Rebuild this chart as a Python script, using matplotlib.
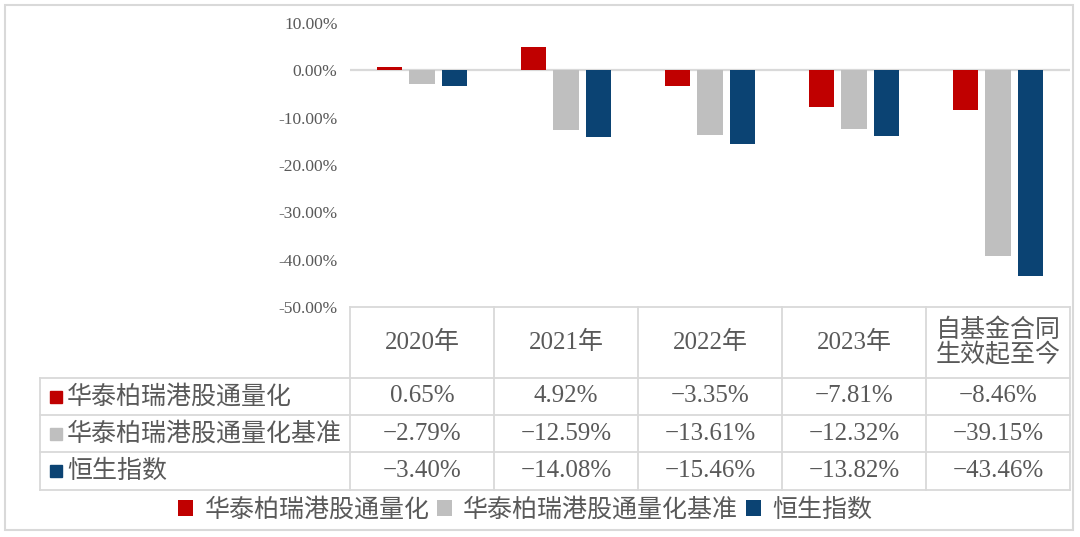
import numpy as np
import matplotlib.pyplot as plt
from matplotlib.patches import Rectangle

plt.rcParams['font.family'] = ['Liberation Serif', 'Noto Sans CJK SC', 'DejaVu Sans']

categories = ['2020年', '2021年', '2022年', '2023年', '自基金合同\n生效起至今']
series = ['华泰柏瑞港股通量化', '华泰柏瑞港股通量化基准', '恒生指数']
fund = [0.65, 4.92, -3.35, -7.81, -8.46]
bench = [-2.79, -12.59, -13.61, -12.32, -39.15]
hsi = [-3.40, -14.08, -15.46, -13.82, -43.46]
values = [fund, bench, hsi]
colors = ['#C00000', '#BFBFBF', '#0B4373']
yticks = [10, 0, -10, -20, -30, -40, -50]

W, H = 1080, 537
txt = '#595959'
grid = '#D9D9D9'

fig = plt.figure(figsize=(W / 100, H / 100), dpi=100, facecolor='white')

# chart area (pixel layout)
px_left, px_right, px_top, px_bot = 350, 1070, 23, 307
ax = fig.add_axes([px_left / W, 1 - px_bot / H, (px_right - px_left) / W, (px_bot - px_top) / H])
x = np.arange(len(categories))
bw = 0.175
offs = [-0.225, 0, 0.225]
bars = []
for vals, c, o, name in zip(values, colors, offs, series):
    bars.append(ax.bar(x + o, vals, bw, color=c, label=name, zorder=3))
ax.axhline(0, color=grid, lw=1.6, zorder=2)
ax.set_xlim(-0.5, len(categories) - 0.5)
ax.set_ylim(-50, 10)
ax.set_yticks(yticks)
ax.set_yticklabels([f'{v:.2f}%' for v in yticks], color=txt, fontsize=12.5)
ax.tick_params(axis='y', length=0, pad=9)
ax.set_xticks([])
for s in ax.spines.values():
    s.set_visible(False)
ax.patch.set_alpha(0)

# overlay in pixel coords for table, legend and border
ov = fig.add_axes([0, 0, 1, 1], zorder=-1)
ov.set_xlim(0, W)
ov.set_ylim(H, 0)
ov.axis('off')

ov.add_patch(Rectangle((5, 5), 1068, 525, fill=False, ec=grid, lw=1.5))

col_edges = np.linspace(px_left, px_right, len(categories) + 1)
row_edges = [307, 378, 415, 452, 490]
lab_left = 40
lw = 1.3
# horizontals
ov.plot([px_left, px_right], [row_edges[0]] * 2, color=grid, lw=lw)
for yy in row_edges[1:]:
    ov.plot([lab_left, px_right], [yy, yy], color=grid, lw=lw)
# verticals
for xx in col_edges:
    ov.plot([xx, xx], [row_edges[0], row_edges[-1]], color=grid, lw=lw)
ov.plot([lab_left, lab_left], [row_edges[1], row_edges[-1]], color=grid, lw=lw)

fs = 18
for i, cat in enumerate(categories):
    cx = (col_edges[i] + col_edges[i + 1]) / 2
    ov.text(cx, (row_edges[0] + row_edges[1]) / 2, cat, ha='center', va='center',
            color=txt, fontsize=fs, linespacing=1.05)
for r, (name, vals, c) in enumerate(zip(series, values, colors)):
    cy = (row_edges[r + 1] + row_edges[r + 2]) / 2
    ov.add_patch(Rectangle((50, cy - 6), 12, 12, color=c))
    ov.text(67, cy, name, ha='left', va='center', color=txt, fontsize=fs)
    for i, v in enumerate(vals):
        cx = (col_edges[i] + col_edges[i + 1]) / 2
        ov.text(cx, cy, f'{v:.2f}%'.replace('-', '\u2212'), ha='center', va='center',
                color=txt, fontsize=fs)

fig.legend(handles=bars, labels=series, loc='center', bbox_to_anchor=(525 / W, 1 - 510 / H),
           ncol=3, frameon=False, fontsize=fs, labelcolor=txt, handlelength=0.6,
           handleheight=0.6, handletextpad=0.45, columnspacing=0.3)

fig.savefig('out.png', dpi=100, facecolor='white')
